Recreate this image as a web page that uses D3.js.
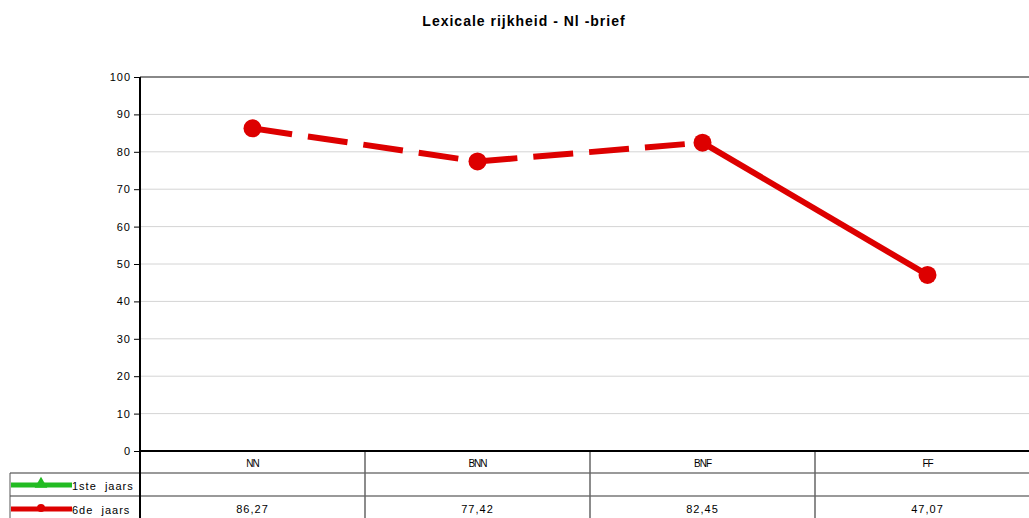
<!DOCTYPE html>
<html><head><meta charset="utf-8">
<script src="https://cdn.jsdelivr.net/npm/d3@7"></script>
<style>body{margin:0;background:#fff}svg{display:block;font-family:"Liberation Sans",Arial,sans-serif}</style>
</head><body><svg id="c" width="1029" height="518"></svg>
<script>
const categories = ["NN","BNN","BNF","FF"];
const series1Name = "1ste  jaars";
const series1 = [null,null,null,null];
const series2Name = "6de  jaars";
const series2 = [86.27,77.42,82.45,47.07];
const series2Labels = ["86,27","77,42","82,45","47,07"];
const yTicks = [0,10,20,30,40,50,60,70,80,90,100];
const title = "Lexicale rijkheid - Nl -brief";

const svg = d3.select("#c");
const L=140, R=1040, T=77, B=451;
const x = d3.scaleBand().domain(categories).range([L,R]);
const y = d3.scaleLinear().domain([0,100]).range([B,T]);
const red="#dd0000", green="#22bb22";

svg.append("text").attr("x",524).attr("y",26).attr("text-anchor","middle")
  .attr("font-weight","bold").attr("font-size",14).attr("letter-spacing","1px").text(title);

// gridlines
svg.append("g").selectAll("line").data(yTicks.filter(d=>d>0&&d<100)).join("line")
  .attr("x1",L).attr("x2",R).attr("y1",d=>y(d)).attr("y2",d=>y(d))
  .attr("stroke","#d4d4d4").attr("stroke-width",1);
svg.append("line").attr("x1",L).attr("x2",R).attr("y1",y(100)).attr("y2",y(100))
  .attr("stroke","#888").attr("stroke-width",2);

// y axis
const ya = svg.append("g").attr("transform",`translate(${L},0)`)
  .call(d3.axisLeft(y).tickValues(yTicks).tickSize(6).tickPadding(3));
ya.select(".domain").remove();
ya.selectAll("line").attr("stroke","#000");
ya.selectAll("text").attr("font-size",11).attr("letter-spacing","1px")
  .attr("font-family","Liberation Sans,Arial,sans-serif").attr("fill","#000");

// table
const rows=[473,496];
const g=svg.append("g");
rows.forEach(r=>g.append("line").attr("x1",10).attr("x2",R).attr("y1",r).attr("y2",r)
  .attr("stroke","#777").attr("stroke-width",1.5));
g.append("line").attr("x1",10).attr("x2",10).attr("y1",473).attr("y2",518).attr("stroke","#555").attr("stroke-width",1);
categories.slice(1).forEach(c=>g.append("line").attr("x1",x(c)).attr("x2",x(c)).attr("y1",B).attr("y2",518)
  .attr("stroke","#666").attr("stroke-width",1.5));
g.append("line").attr("x1",L).attr("x2",L).attr("y1",T).attr("y2",518).attr("stroke","#000").attr("stroke-width",2);
g.append("line").attr("x1",L).attr("x2",R).attr("y1",B).attr("y2",B).attr("stroke","#000").attr("stroke-width",2);

g.selectAll("text.cat").data(categories).join("text").attr("class","cat")
  .attr("x",d=>x(d)+x.bandwidth()/2).attr("y",467).attr("text-anchor","middle")
  .attr("font-size",10).attr("letter-spacing","-1px").text(d=>d);
g.selectAll("text.val").data(series2Labels).join("text").attr("class","val")
  .attr("x",(d,i)=>x(categories[i])+x.bandwidth()/2).attr("y",513).attr("text-anchor","middle")
  .attr("font-size",11).attr("letter-spacing","1px").text(d=>d);

// legend keys
g.append("line").attr("x1",11).attr("x2",72).attr("y1",485).attr("y2",485).attr("stroke",green).attr("stroke-width",5);
g.append("path").attr("d",d3.symbol(d3.symbolTriangle,70)()).attr("transform","translate(41,484)").attr("fill",green);
g.append("text").attr("x",72).attr("y",490).attr("font-size",11).attr("letter-spacing","1px").attr("xml:space","preserve")
  .style("white-space","pre").text(series1Name);
g.append("line").attr("x1",11).attr("x2",72).attr("y1",509).attr("y2",509).attr("stroke",red).attr("stroke-width",5);
g.append("circle").attr("cx",41).attr("cy",508).attr("r",4).attr("fill",red);
g.append("text").attr("x",72).attr("y",514).attr("font-size",11).attr("letter-spacing","1px")
  .style("white-space","pre").text(series2Name);

// series line
const cx=i=>x(categories[i])+x.bandwidth()/2;
for(let i=0;i<series2.length-1;i++){
  svg.append("line").attr("x1",cx(i)).attr("y1",y(series2[i])).attr("x2",cx(i+1)).attr("y2",y(series2[i+1]))
    .attr("stroke",red).attr("stroke-width",6)
    .attr("stroke-dasharray", i<2 ? "40,16" : null);
}
svg.selectAll("circle.pt").data(series2).join("circle").attr("class","pt")
  .attr("cx",(d,i)=>cx(i)).attr("cy",d=>y(d)).attr("r",9).attr("fill",red);
</script></body></html>
